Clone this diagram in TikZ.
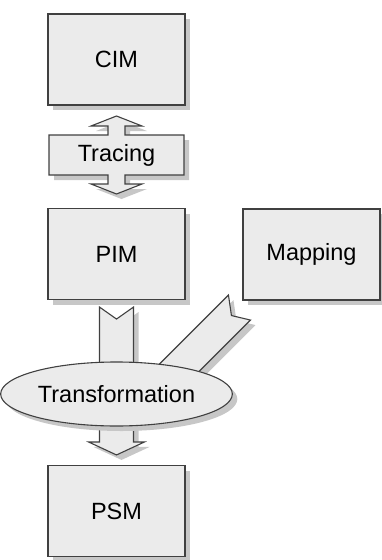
\documentclass[tikz,border=0pt]{standalone}
\usepackage{fontspec}
\setmainfont{Liberation Sans}
\usetikzlibrary{shapes.geometric,shadows,calc}
\pgfdeclarelayer{background}
\pgfsetlayers{background,main}
\tikzset{
  shade/.style={drop shadow={shadow xshift=5pt,shadow yshift=-5pt,fill=black!22,opacity=1}},
  model/.style={draw=black!75,fill=black!8,line width=1.1pt,shade,minimum width=137pt,minimum height=91pt},
  blockarrow/.style={draw=black!75,fill=black!8,line width=1.1pt,line join=miter,shade}
}

\begin{document}
\begin{tikzpicture}[x=1pt,y=-1pt,font=\fontsize{23.5}{27}\selectfont]
      \useasboundingbox (0,0) rectangle (381,560);

      \node[model] (CIM) at (116.5,59.5) {CIM};
      \node[model] (PIM) at (116.5,254) {PIM};
      \node[model] (Mapping) at (311.5,254.5) {Mapping};
      \node[model] (PSM) at (116.5,511) {PSM};
      \node (Tracing) at (116.5,155) {Tracing};
      \node[ellipse,draw=black!75,fill=black!8,line width=1.1pt,shade,minimum width=209pt,minimum height=64pt] (Transformation) at (116.5,394) {Transformation};

      \begin{pgfonlayer}{background}
        \draw[blockarrow] ($(Tracing)+(-67.5,-20)$) -- ($(Tracing)+(-8.5,-20)$) -- ($(Tracing)+(-8.5,-29)$) -- ($(Tracing)+(-25.5,-29)$) -- ($(Tracing)+(0,-39)$)
          -- ($(Tracing)+(25.5,-29)$) -- ($(Tracing)+(8.5,-29)$) -- ($(Tracing)+(8.5,-20)$) -- ($(Tracing)+(67.5,-20)$) -- ($(Tracing)+(67.5,20)$)
          -- ($(Tracing)+(8.5,20)$) -- ($(Tracing)+(8.5,29)$) -- ($(Tracing)+(25.5,29)$) -- ($(Tracing)+(0,39)$) -- ($(Tracing)+(-25.5,29)$)
          -- ($(Tracing)+(-8.5,29)$) -- ($(Tracing)+(-8.5,20)$) -- ($(Tracing)+(-67.5,20)$) -- cycle;

        \draw[blockarrow] ($(PIM.south)+(-17,7)$) -- ($(PIM.south)+(0,19)$) -- ($(PIM.south)+(17,7)$) -- ($(PSM.north)+(17,-23)$)
          -- ($(PSM.north)+(28,-23)$) -- ($(PSM.north)+(0,-10)$) -- ($(PSM.north)+(-28,-23)$) -- ($(PSM.north)+(-17,-23)$) -- cycle;

        \draw[blockarrow] ($(Mapping.south west)+(-14,-5.5)$) -- ($(Mapping.south west)+(-11,15)$) -- ($(Mapping.south west)+(8,19.5)$)
          -- ($(Transformation.center)+(49,11)$) -- ($(Transformation.center)+(27,-14)$) -- cycle;
      \end{pgfonlayer}
    \end{tikzpicture}
\end{document}
